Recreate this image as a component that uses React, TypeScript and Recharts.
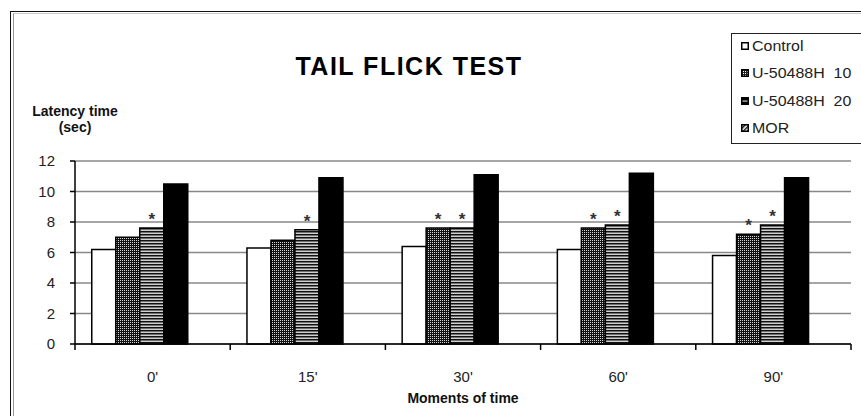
import React from "react";
import { BarChart, Bar, XAxis, YAxis, CartesianGrid, LabelList } from "recharts";

const times = ["0'", "15'", "30'", "60'", "90'"];
const control = [6.2, 6.3, 6.4, 6.2, 5.8];
const u10 = [7.0, 6.8, 7.6, 7.6, 7.2];
const u20 = [7.6, 7.5, 7.6, 7.8, 7.8];
const mor = [10.5, 10.9, 11.1, 11.2, 10.9];
const starU10 = ["", "", "*", "*", "*"];
const starU20 = ["*", "*", "*", "*", "*"];
const yTicks = [0, 2, 4, 6, 8, 10, 12];
const legendNames = ["Control", "U-50488H  10", "U-50488H  20", "MOR"];

const data = times.map((t, i) => ({
  time: t,
  control: control[i],
  u10: u10[i],
  u20: u20[i],
  mor: mor[i],
  blank: null,
  s10: starU10[i],
  s20: starU20[i],
}));

const FONT = "Arial, 'Liberation Sans', sans-serif";
const X_TICK_MARGIN = 27;

function Swatch({ kind }: { kind: number }) {
  return (
    <svg width={8} height={8} style={{ display: "block" }}>
      <defs>
        <pattern id={"lg-dots"} width={2} height={2} patternUnits="userSpaceOnUse">
          <rect width={2} height={2} fill="#222" />
          <rect width={1} height={1} fill="#fff" />
        </pattern>
        <pattern id={"lg-hatch"} width={3} height={3} patternUnits="userSpaceOnUse" patternTransform="rotate(45)">
          <rect width={3} height={3} fill="#fff" />
          <rect width={1.4} height={3} fill="#111" />
        </pattern>
      </defs>
      {kind === 0 && <rect x={0.75} y={0.75} width={6.5} height={6.5} fill="#fff" stroke="#000" strokeWidth={1.5} />}
      {kind === 1 && <rect x={0.75} y={0.75} width={6.5} height={6.5} fill="url(#lg-dots)" stroke="#000" strokeWidth={1.5} />}
      {kind === 2 && (
        <g>
          <rect x={0.75} y={0.75} width={6.5} height={6.5} fill="#000" stroke="#000" strokeWidth={1.5} />
          <rect x={1.5} y={3.5} width={5} height={1.2} fill="#ccc" />
        </g>
      )}
      {kind === 3 && <rect x={0.75} y={0.75} width={6.5} height={6.5} fill="url(#lg-hatch)" stroke="#000" strokeWidth={1.5} />}
    </svg>
  );
}

function CatTick(props: any) {
  const { x, y, payload, index, visibleTicksCount } = props;
  const half = payload && payload.offset ? payload.offset : 0;
  const axisY = y - X_TICK_MARGIN;
  const isLast = index === (visibleTicksCount ?? times.length) - 1;
  return (
    <g>
      <line x1={x - half} x2={x - half} y1={axisY} y2={axisY + 6} stroke="#000" strokeWidth={1.5} />
      {isLast && <line x1={x + half} x2={x + half} y1={axisY} y2={axisY + 6} stroke="#000" strokeWidth={1.5} />}
      <text x={x} y={y} dy="0.71em" textAnchor="middle" fill="#222" fontSize={15} fontFamily={FONT}>
        {payload.value}
      </text>
    </g>
  );
}

export default function App() {
  return (
    <div style={{ position: "relative", width: 861, height: 416, overflow: "hidden", background: "#fff", fontFamily: FONT }}>
      <style>{`body{margin:0;}`}</style>
      {/* outer frame */}
      <div style={{ position: "absolute", left: 10, top: 11, width: 1000, height: 1000, borderLeft: "1.5px solid #111", borderTop: "1.5px solid #111" }} />
      <div style={{ position: "absolute", left: 13, top: 13, width: 1000, height: 1000, borderLeft: "1.5px solid #999", borderTop: "1px solid #ccc" }} />

      <div style={{ position: "absolute", left: 0, top: 0 }}>
        <BarChart
          width={861}
          height={416}
          data={data}
          margin={{ top: 161, right: 10, bottom: 0, left: 0 }}
          barCategoryGap="10.8%"
          barGap={0}
        >
          <defs>
            <pattern id="dots" width={2} height={2} patternUnits="userSpaceOnUse">
              <rect width={2} height={2} fill="#111" />
              <rect width={1} height={1} fill="#d8d8d8" />
            </pattern>
            <pattern id="stripes" width={4} height={3} patternUnits="userSpaceOnUse">
              <rect width={4} height={3} fill="#cfcfcf" />
              <rect width={4} height={1.5} fill="#111" />
            </pattern>
          </defs>
          <CartesianGrid vertical={false} stroke="#888" strokeWidth={1.5} />
          <XAxis
            dataKey="time"
            axisLine={{ stroke: "#000", strokeWidth: 1.5 }}
            tickLine={false}
            tickSize={0}
            tickMargin={X_TICK_MARGIN}
            height={72}
            interval={0}
            tick={<CatTick />}
          />
          <YAxis
            domain={[0, 12]}
            ticks={yTicks}
            width={75}
            tickSize={5}
            tickMargin={15}
            axisLine={{ stroke: "#000", strokeWidth: 1.5 }}
            tickLine={{ stroke: "#000", strokeWidth: 1.5 }}
            tick={{ fill: "#222", fontSize: 15, fontFamily: FONT }}
          />
          <YAxis
            yAxisId="r"
            orientation="right"
            domain={[0, 12]}
            ticks={yTicks}
            width={0}
            tick={false}
            tickLine={false}
            axisLine={{ stroke: "#777", strokeWidth: 1.5 }}
          />
          <Bar dataKey="control" fill="#fff" stroke="#000" strokeWidth={1.5} isAnimationActive={false} />
          <Bar dataKey="u10" fill="url(#dots)" stroke="#000" strokeWidth={1.5} isAnimationActive={false}>
            <LabelList dataKey="s10" position="top" offset={3} fill="#333" fontSize={17} fontWeight="bold" fontFamily={FONT} />
          </Bar>
          <Bar dataKey="u20" fill="url(#stripes)" stroke="#000" strokeWidth={1.5} isAnimationActive={false}>
            <LabelList dataKey="s20" position="top" offset={3} fill="#333" fontSize={17} fontWeight="bold" fontFamily={FONT} />
          </Bar>
          <Bar dataKey="mor" fill="#000" stroke="#000" strokeWidth={1.5} isAnimationActive={false} />
          <Bar dataKey="blank" fill="none" isAnimationActive={false} />
        </BarChart>
      </div>

      {/* title */}
      <div style={{ position: "absolute", left: 409, top: 66, transform: "translate(-50%,-50%)", fontSize: 25, fontWeight: "bold", letterSpacing: 1.5, whiteSpace: "nowrap", color: "#000" }}>
        TAIL FLICK TEST
      </div>
      {/* y label */}
      <div style={{ position: "absolute", left: 75, top: 119, transform: "translate(-50%,-50%)", fontSize: 14, fontWeight: "bold", textAlign: "center", lineHeight: "16px", whiteSpace: "nowrap", color: "#111" }}>
        Latency time
        <br />
        (sec)
      </div>
      {/* x label */}
      <div style={{ position: "absolute", left: 463, top: 398, transform: "translate(-50%,-50%)", fontSize: 14, fontWeight: "bold", whiteSpace: "nowrap", color: "#111" }}>
        Moments of time
      </div>
      {/* legend */}
      <div style={{ position: "absolute", left: 731, top: 33, width: 200, height: 109, border: "1px solid #222", background: "#fff" }}>
        {legendNames.map((n, i) => (
          <div key={n} style={{ position: "absolute", left: 9, top: 3 + i * 27.3, height: 18, display: "flex", alignItems: "center" }}>
            <Swatch kind={i} />
            <span style={{ marginLeft: 3, fontSize: 14, color: "#222", whiteSpace: "pre", display: "inline-block", transform: "scaleX(1.14)", transformOrigin: "left center" }}>{n}</span>
          </div>
        ))}
      </div>
    </div>
  );
}
